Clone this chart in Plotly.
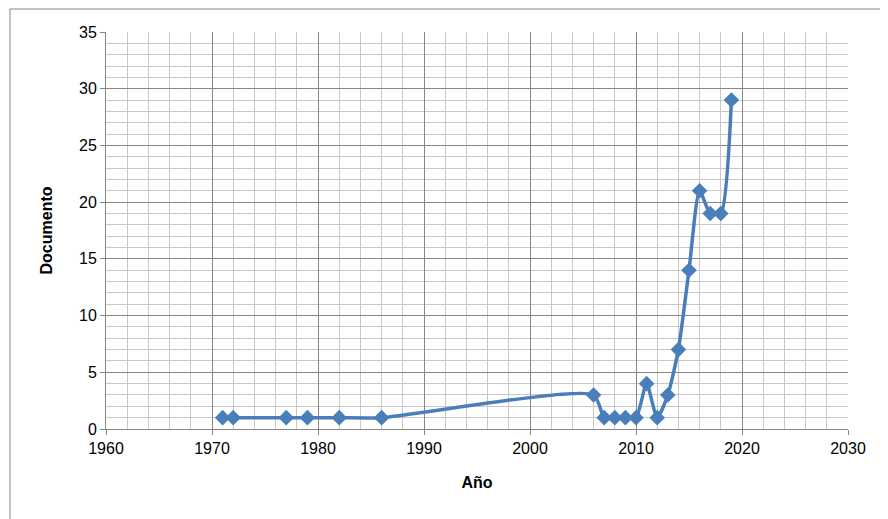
import plotly.graph_objects as go

years = [1971,1972,1977,1979,1982,1986,2006,2007,2008,2009,2010,2011,2012,2013,2014,2015,2016,2017,2018,2019]
docs = [1,1,1,1,1,1,3,1,1,1,1,4,1,3,7,14,21,19,19,29]

fig = go.Figure(go.Scatter(x=years, y=docs, mode="lines+markers",
    line=dict(color="#4a7ebb", width=3.5, shape="spline", smoothing=0.6),
    marker=dict(symbol="diamond", size=12, color="#4a7ebb")))
ax = dict(showline=True, linecolor="#868686", linewidth=1, ticks="outside", ticklen=5,
          tickcolor="#868686", gridcolor="#868686", gridwidth=1, zeroline=False, automargin=False,
          tickfont=dict(family="Liberation Sans", size=16, color="black"))
fig.update_xaxes(**ax, range=[1960,2030], dtick=10,
    minor=dict(dtick=2, showgrid=True, gridcolor="#c8c8c8", gridwidth=1),
    title=dict(text="<b>Año</b>", standoff=20, font=dict(family="Liberation Sans", size=16, color="black")))
fig.update_yaxes(**ax, range=[0,35], dtick=5,
    minor=dict(dtick=1, showgrid=True, gridcolor="#c8c8c8", gridwidth=1),
    title=dict(text="<b>Documento</b>", standoff=22, font=dict(family="Liberation Sans", size=16, color="black")))
fig.update_layout(width=888, height=519, margin=dict(l=98, r=48, t=24, b=98, autoexpand=False),
    plot_bgcolor="white", paper_bgcolor="white", showlegend=False,
    shapes=[dict(type="rect", xref="paper", yref="paper", x0=-0.1294, x1=1.0620, y0=-0.2443, y1=1.0579,
                 line=dict(color="#868686", width=1))])
fig.write_html("out.html")
